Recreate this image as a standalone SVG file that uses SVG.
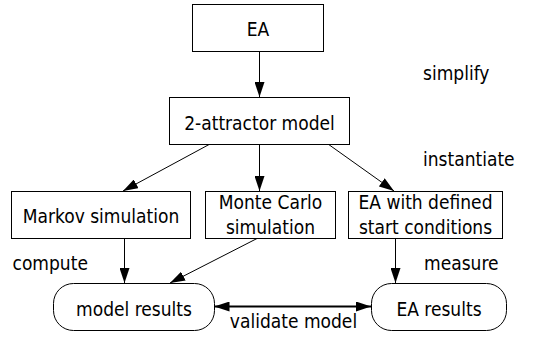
<svg xmlns="http://www.w3.org/2000/svg" width="541" height="341" viewBox="0 0 541 341">
<style>
.box{fill:#fff;stroke:#000;stroke-width:1}
.t{font-family:"DejaVu Sans Condensed","DejaVu Sans",sans-serif;font-stretch:condensed;font-size:19px;fill:#000}
.c{text-anchor:middle}
.ln{stroke:#000;stroke-width:1;fill:none}
</style>
<defs>
<marker id="ah" viewBox="0 0 15 10" refX="15" refY="5" markerWidth="15" markerHeight="10" markerUnits="userSpaceOnUse" orient="auto">
<path d="M0,0 L15,5 L0,10 Z" fill="#000"/>
</marker>
<marker id="ahs" viewBox="0 0 15 10" refX="0" refY="5" markerWidth="15" markerHeight="10" markerUnits="userSpaceOnUse" orient="auto">
<path d="M15,0 L0,5 L15,10 Z" fill="#000"/>
</marker>
</defs>
<rect width="541" height="341" fill="#fff"/>
<g id="connectors">
<line class="ln" x1="259.5" y1="51" x2="259.5" y2="97" marker-end="url(#ah)"/>
<line class="ln" x1="210" y1="144" x2="123" y2="191" marker-end="url(#ah)"/>
<line class="ln" x1="259.5" y1="144" x2="259.5" y2="191" marker-end="url(#ah)"/>
<line class="ln" x1="328" y1="144" x2="394" y2="191" marker-end="url(#ah)"/>
<line class="ln" x1="124.5" y1="238" x2="124.5" y2="283" marker-end="url(#ah)"/>
<line class="ln" x1="258" y1="238" x2="170" y2="283" marker-end="url(#ah)"/>
<line class="ln" x1="395.5" y1="238" x2="395.5" y2="283" marker-end="url(#ah)"/>
<line x1="214.5" y1="306.5" x2="371" y2="306.5" stroke="#000" stroke-width="2" marker-start="url(#ahs)" marker-end="url(#ah)"/>
</g>
<g id="ea"><rect class="box" x="192.5" y="4.5" width="131" height="47"/><text class="t c" x="258" y="36">EA</text></g>
<g id="model2"><rect class="box" x="169.5" y="97.5" width="180" height="47"/><text class="t c" x="259.5" y="129.5">2-attractor model</text></g>
<g id="markov"><rect class="box" x="11.5" y="191.5" width="179" height="47"/><text class="t c" x="101" y="223">Markov simulation</text></g>
<g id="montecarlo"><rect class="box" x="205.5" y="191.5" width="130" height="47"/><text class="t c" x="270.5" y="208.5">Monte Carlo</text><text class="t c" x="270.5" y="233.5">simulation</text></g>
<g id="eadefined"><rect class="box" x="348.5" y="191.5" width="154" height="47"/><text class="t c" x="425.5" y="208.5">EA with defined</text><text class="t c" x="425.5" y="233.5">start conditions</text></g>
<g id="modelresults"><rect class="box" x="53.5" y="283.5" width="161" height="47" rx="20" ry="20"/><text class="t c" x="134" y="316">model results</text></g>
<g id="earesults"><rect class="box" x="371.5" y="283.5" width="135" height="47" rx="20" ry="20"/><text class="t c" x="439" y="316">EA results</text></g>
<g id="labels">
<text class="t" x="423" y="80">simplify</text>
<text class="t" x="423" y="166">instantiate</text>
<text class="t" x="12.5" y="270">compute</text>
<text class="t" x="424" y="270">measure</text>
<text class="t c" x="293.5" y="328">validate model</text>
</g>
</svg>
